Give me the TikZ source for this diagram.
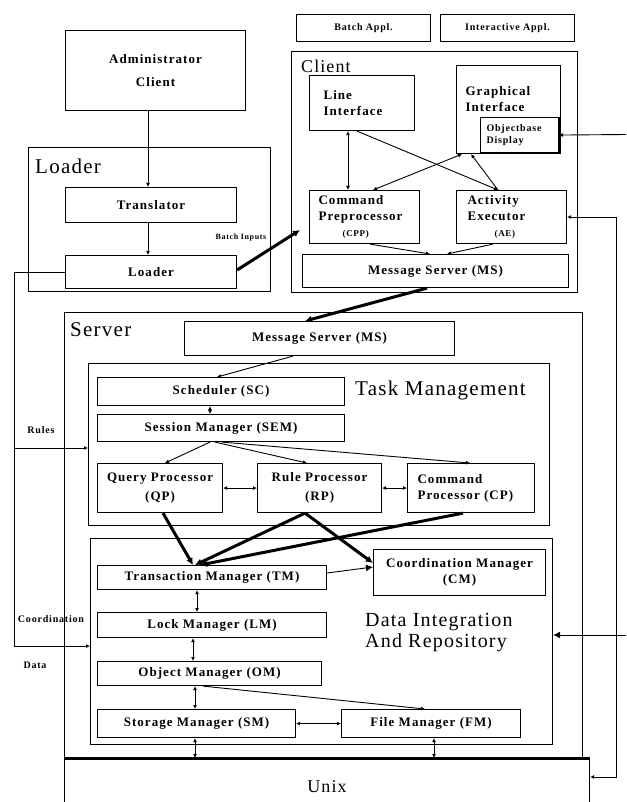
\documentclass[tikz,border=0pt]{standalone}
\usepackage{fontspec}
\setmainfont{Liberation Serif}
\newfontfamily\bxf[LetterSpace=8]{Liberation Serif}
\newfontfamily\ttlf[LetterSpace=6]{Liberation Serif}
\usetikzlibrary{arrows.meta,calc}
\newcommand\mkbox[7][]{\node[bx,minimum width=#5pt,minimum height=#6pt,#1] (#2) at (#3,#4) {#7};}
\tikzset{
  bx/.style={draw, line width=1.1pt, inner sep=0pt, anchor=north west, align=center,
    font=\bxf\bfseries\fontsize{13}{16}\selectfont},
  grp/.style={bx},
  smallf/.style={font=\bxf\bfseries\fontsize{10}{12}\selectfont},
  ttl/.style={anchor=west, inner sep=0pt, font=\ttlf\fontsize{21}{22}\selectfont},
  lbl/.style={inner sep=0pt, font=\bxf\bfseries\fontsize{10}{12}\selectfont},
  con/.style={line width=0.9pt},
  thk/.style={line width=3pt},
  arrE/.style={-{Latex[length=4pt,width=4pt]}},
  arrB/.style={{Latex[length=4pt,width=4pt]}-{Latex[length=4pt,width=4pt]}},
  arrT/.style={-{Latex[length=7pt,width=7pt]}}
}
\begin{document}
\begin{tikzpicture}[x=1pt,y=-1pt]
\useasboundingbox (0,0) rectangle (626,802);

% ---------- Loader side ----------
\mkbox{Admin}{65}{30}{180}{80}{Administrator\\[7pt]Client}
\mkbox{LoaderG}{28}{147}{242}{144}{}
\node[ttl] (LoaderT) at (35,166) {Loader};
\mkbox{Translator}{65}{187}{171}{35}{Translator}
\mkbox{LoaderB}{65}{255}{171}{33}{Loader}
\node[lbl, font=\bxf\bfseries\fontsize{8}{9}\selectfont] (BatchIn) at (241,238) {Batch Inputs};

% ---------- Client ----------
\mkbox[smallf]{BatchA}{296}{14}{134}{27}{Batch Appl.}
\mkbox[smallf]{InterA}{440}{14}{134}{27}{Interactive Appl.}
\mkbox{ClientG}{291}{51}{286}{241}{}
\node[ttl, font=\ttlf\fontsize{18}{20}\selectfont] (ClientT) at (301,66) {Client};
\mkbox[text width=77pt, align=left]{LI}{309}{75}{105}{55}{Line\\Interface}
\mkbox{GI}{456}{65}{104}{88}{}
\node[bx, draw=none, align=left] (GIt) at ($(GI.north west)+(9,21)$) {Graphical\\Interface};
\mkbox[smallf, text width=66pt, align=left]{OD}{480}{117}{78}{35}{Objectbase\\Display}
\draw[thk] (OD.north east) -- (OD.south east);
\mkbox[text width=92pt, align=left]{CPP}{309}{190}{110}{53}{Command\\Preprocessor\\\hspace*{24pt}{\fontsize{9}{10}\selectfont (CPP)}}
\mkbox[text width=88pt, align=left]{AE}{456}{190}{110}{53}{Activity\\Executor\\\hspace*{27pt}{\fontsize{9}{10}\selectfont (AE)}}
\mkbox{CMS}{302}{254}{266}{33}{Message Server (MS)}

% ---------- Server ----------
\mkbox{ServerG}{64}{312}{518}{446}{}
\node[ttl] (ServerT) at (70,330) {Server};
\mkbox{SMS}{184}{321}{270}{34}{Message Server (MS)}
\mkbox{TaskG}{88}{363}{461}{162}{}
\node[ttl] (TaskT) at (355,390) {Task Management};
\mkbox{SC}{97}{377}{247}{28}{Scheduler (SC)}
\mkbox{SEM}{97}{414}{247}{27}{Session Manager (SEM)}
\mkbox{QP}{97}{463}{125}{49}{Query Processor\\[3pt](QP)}
\mkbox{RP}{257}{463}{124}{49}{Rule Processor\\[3pt](RP)}
\mkbox[text width=107pt, align=left]{CP}{407}{463}{127}{49}{Command\\Processor (CP)}

\mkbox{DIRG}{90}{538}{462}{206}{}
\node[ttl, font=\ttlf\fontsize{20}{21}\selectfont, align=left] (DIRT) at (365,633) {Data Integration\\And Repository};
\mkbox{TM}{97}{565}{229}{24}{Transaction Manager (TM)}
\mkbox{CM}{373}{549}{172}{46}{Coordination Manager\\(CM)}
\mkbox{LM}{97}{612}{229}{25}{Lock Manager (LM)}
\mkbox{OM}{97}{661}{224}{24}{Object Manager (OM)}
\mkbox{SM}{97}{709}{198}{28}{Storage Manager (SM)}
\mkbox{FM}{341}{709}{179}{28}{File Manager (FM)}

% ---------- Unix ----------
\mkbox[font=\ttlf\fontsize{18}{20}\selectfont]{Unix}{64}{758}{525}{56}{Unix}
\draw[thk] (Unix.north west) -- (Unix.north east);

% ---------- left labels ----------
\node[lbl] (Rules) at (41,430) {Rules};
\node[lbl] (Coord) at (51,619) {Coordination};
\node[lbl] (DataL) at (35,665) {Data};

% ---------- connectors: loader ----------
\draw[con, arrE] ($(Admin.south west)+(83,0)$) -- ($(Translator.north west)+(83,0)$);
\draw[con, arrE] ($(Translator.south west)+(83,0)$) -- ($(LoaderB.north west)+(83,0)$);
\coordinate (binEnd) at ($(ClientG.north west)+(9,179)$);
\draw[thk, arrT] ($(LoaderB.north east)+(0,15)$) -- (binEnd);
\coordinate (leftJ) at (14,448);
\draw[con, arrE] (LoaderB.west) -- ++(-51,0) |- ($(DIRG.south west)+(0,-99)$);
\draw[con, arrE] (leftJ) -- ($(TaskG.north west)+(0,85)$);

% ---------- connectors: client ----------
\draw[con, arrB] ($(LI.south west)+(39,0)$) -- ($(CPP.north west)+(39,0)$);
\draw[con, arrE] ($(LI.south west)+(48,0)$) -- ($(AE.north west)+(42,0)$);
\draw[con, arrB] ($(CPP.north west)+(64,0)$) -- ($(GI.south west)+(6,0)$);
\draw[con, arrE] ($(AE.north west)+(42,0)$) -- ($(GI.south west)+(15,0)$);
\draw[con, arrE] ($(CPP.south west)+(61,0)$) -- ($(CMS.north west)+(128,0)$);
\draw[con, arrE] ($(AE.south west)+(37,0)$) -- ($(CMS.north west)+(145,0)$);
\draw[thk, arrT] ($(CMS.south west)+(125,0)$) -- ($(SMS.north west)+(121,0)$);
\coordinate (rTop) at (626,134.5);
\draw[con, arrE] (rTop) -- (OD.east);
\draw[con, arrB] (AE.east) -- ++(49,0) |- ($(Unix.north east)+(0,19)$);
\coordinate (rMid) at (626,635);
\draw[con, arrT] (rMid) -- ($(DIRG.north east)+(0,97)$);

% ---------- connectors: task management ----------
\draw[con, arrE] ($(SMS.south west)+(109,0)$) -- ($(SC.north west)+(120,0)$);
\draw[con, arrB] ($(SC.south west)+(113,0)$) -- ($(SEM.north west)+(113,0)$);
\draw[con, arrE] ($(SEM.south west)+(113,0)$) -- ($(QP.north west)+(68,0)$);
\draw[con, arrE] ($(SEM.south west)+(118,0)$) -- ($(RP.north west)+(50,0)$);
\draw[con, arrE] ($(SEM.south west)+(125,0)$) -- ($(CP.north west)+(63,0)$);
\draw[con, arrB] (QP.east) -- (RP.west);
\draw[con, arrB] (RP.east) -- (CP.west);

% ---------- thick links to data integration ----------
\draw[thk, arrT] ($(QP.south west)+(66,0)$) -- ($(TM.north west)+(96,0)$);
\draw[thk, arrT] ($(RP.south west)+(48,0)$) -- ($(TM.north west)+(98,0)$);
\draw[thk, arrT] ($(CP.south west)+(56,0)$) -- ($(TM.north west)+(103,0)$);
\draw[thk, arrT] ($(RP.south west)+(48,0)$) -- ($(CM.north west)+(0,14)$);

% ---------- data integration ----------
\draw[con, arrT] ($(TM.north east)+(0,8)$) -- ($(CM.north west)+(0,18)$);
\draw[con, arrB] ($(TM.south west)+(100,0)$) -- ($(LM.north west)+(100,0)$);
\draw[con, arrB] ($(LM.south west)+(96,0)$) -- ($(OM.north west)+(96,0)$);
\draw[con, arrB] ($(OM.south west)+(98,0)$) -- ($(SM.north west)+(98,0)$);
\draw[con, arrE] ($(OM.south west)+(106,0)$) -- ($(FM.north west)+(84,0)$);
\draw[con, arrB] (SM.east) -- (FM.west);
\draw[con, arrB] ($(SM.south west)+(98,0)$) -- ($(Unix.north west)+(131,0)$);
\draw[con, arrB] ($(FM.south west)+(93,0)$) -- ($(Unix.north west)+(370,0)$);
\end{tikzpicture}
\end{document}
